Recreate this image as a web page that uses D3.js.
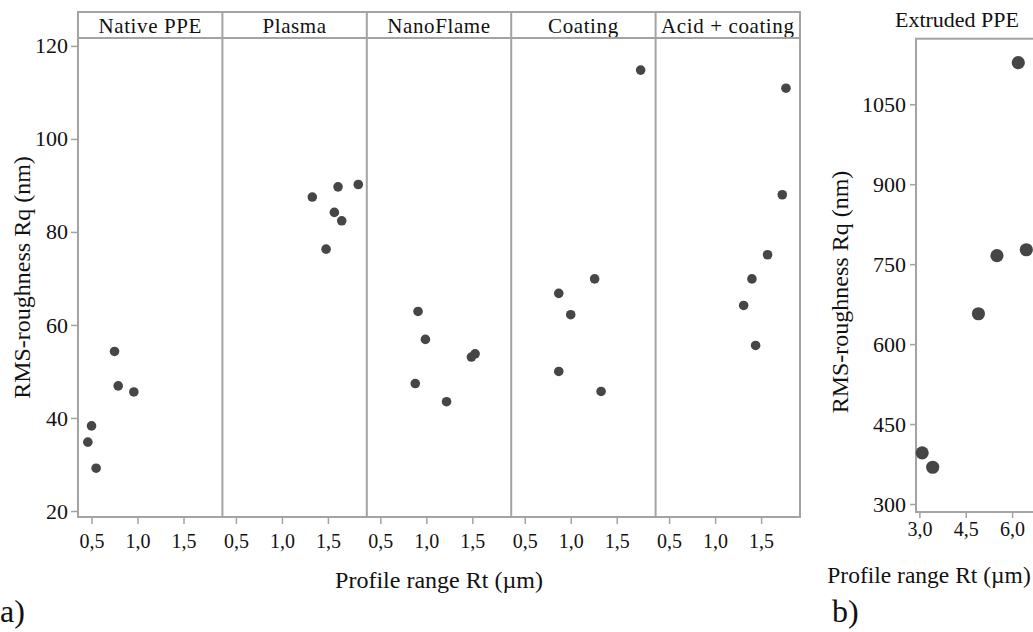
<!DOCTYPE html>
<html>
<head>
<meta charset="utf-8">
<script src="https://cdn.jsdelivr.net/npm/d3@7"></script>
<style>
  body { margin: 0; background: #fff; }
  svg, svg text { font-family: "Liberation Serif", "Times New Roman", serif; }
  svg { display: block; }
</style>
</head>
<body>
<div id="chart"></div>
<script>
// Surface roughness: Rq vs Rt per treatment (a) and extruded PPE (b)
const panelNames = ["Native PPE", "Plasma", "NanoFlame", "Coating", "Acid + coating"];

const rtNative = [0.75, 0.79, 0.96, 0.50, 0.46, 0.55];
const rqNative = [54.3, 46.9, 45.6, 38.3, 34.8, 29.2];
const rtPlasma = [1.33, 1.61, 1.57, 1.65, 1.48, 1.83];
const rqPlasma = [87.5, 89.7, 84.2, 82.4, 76.3, 90.2];
const rtNano   = [0.91, 0.99, 1.49, 1.53, 0.88, 1.22];
const rqNano   = [62.9, 56.9, 53.1, 53.8, 47.4, 43.5];
const rtCoat   = [1.76, 1.26, 0.87, 1.00, 0.87, 1.33];
const rqCoat   = [114.8, 69.9, 66.8, 62.2, 50.0, 45.7];
const rtAcid   = [1.77, 1.73, 1.57, 1.40, 1.31, 1.44];
const rqAcid   = [110.9, 88.0, 75.1, 69.9, 64.2, 55.6];

const rtExtruded = [6.20, 5.51, 6.46, 4.91, 3.09, 3.43];
const rqExtruded = [1128, 766, 777, 657, 396, 369];

const ticksRtA = [0.5, 1.0, 1.5];
const ticksRqA = [20, 40, 60, 80, 100, 120];
const ticksRtB = [3.0, 4.5, 6.0];
const ticksRqB = [300, 450, 600, 750, 900, 1050];

const rtA = [rtNative, rtPlasma, rtNano, rtCoat, rtAcid];
const rqA = [rqNative, rqPlasma, rqNano, rqCoat, rqAcid];

const W = 1033, H = 632;
const LINE = "#a3a3a3", DOT = "#464646", INK = "#111";
const comma = d => d3.format(".1f")(d).replace(".", ",");

const svg = d3.select("#chart").append("svg")
  .attr("width", W).attr("height", H);

// shared axis styling (d3 sets a sans-serif family on the axis group)
function styleAxis(g, size) {
  g.attr("font-family", null);
  g.select(".domain").remove();
  g.selectAll("line").attr("stroke", LINE).attr("stroke-width", 1.5);
  g.selectAll("text").style("font-size", size + "px").attr("fill", INK);
}

/* ---------- panel a ---------- */
const aLeft = 78, aRight = 800, aTop = 38, aBottom = 517, headTop = 12;
const pw = (aRight - aLeft) / panelNames.length;

const yA = d3.scaleLinear().domain([18.71, 121.7]).range([aBottom, aTop]);

svg.append("g").attr("transform", `translate(${aLeft},0)`)
  .call(d3.axisLeft(yA).tickValues(ticksRqA).tickSize(7).tickSizeOuter(0).tickPadding(3))
  .call(styleAxis, 22);

panelNames.forEach((name, i) => {
  const x0 = aLeft + i * pw;
  const x = d3.scaleLinear().domain([0.353, 0.353 + pw / 92]).range([x0, x0 + pw]);

  svg.append("g").attr("transform", `translate(0,${aBottom})`)
    .call(d3.axisBottom(x).tickValues(ticksRtA).tickSize(7).tickSizeOuter(0)
      .tickPadding(10).tickFormat(comma))
    .call(styleAxis, 20);

  svg.append("text")
    .attr("x", x0 + pw / 2).attr("y", 33)
    .attr("text-anchor", "middle")
    .style("font-size", "21px").style("letter-spacing", "0.6px").attr("fill", INK)
    .text(name);

  svg.append("g").selectAll("circle").data(rtA[i].map((v, j) => [v, rqA[i][j]]))
    .enter().append("circle")
    .attr("cx", d => x(d[0])).attr("cy", d => yA(d[1]))
    .attr("r", 4.8).attr("fill", DOT);
});

// frame, header strip and dividers
const frame = svg.append("g").attr("fill", "none").attr("stroke", LINE).attr("stroke-width", 2);
frame.append("rect").attr("x", aLeft).attr("y", headTop)
  .attr("width", aRight - aLeft).attr("height", aBottom - headTop);
frame.append("line").attr("x1", aLeft).attr("x2", aRight).attr("y1", aTop).attr("y2", aTop);
d3.range(1, panelNames.length).forEach(i => {
  frame.append("line").attr("x1", aLeft + i * pw).attr("x2", aLeft + i * pw)
    .attr("y1", headTop).attr("y2", aBottom);
});

svg.append("text")
  .attr("transform", `translate(30,${(aTop + aBottom) / 2}) rotate(-90)`)
  .attr("text-anchor", "middle").style("font-size", "24px").attr("fill", INK)
  .text("RMS-roughness Rq (nm)");

svg.append("text")
  .attr("x", (aLeft + aRight) / 2).attr("y", 588).attr("text-anchor", "middle")
  .style("font-size", "24px").attr("fill", INK)
  .text("Profile range Rt (\u00b5m)");

svg.append("text").attr("x", 0).attr("y", 622)
  .style("font-size", "32px").attr("fill", INK).text("a)");

/* ---------- panel b ---------- */
const bLeft = 916, bRight = 1045, bTop = 38.7, bBottom = 512;
const xB = d3.scaleLinear().domain([2.89, 2.89 + (bRight - bLeft) / 30.9]).range([bLeft, bRight]);
const yB = d3.scaleLinear().domain([285, 1173]).range([bBottom, bTop]);

svg.append("g").attr("transform", `translate(${bLeft},0)`)
  .call(d3.axisLeft(yB).tickValues(ticksRqB).tickSize(6).tickSizeOuter(0)
    .tickPadding(4).tickFormat(d3.format("d")))
  .call(styleAxis, 22);

svg.append("g").attr("transform", `translate(0,${bBottom})`)
  .call(d3.axisBottom(xB).tickValues(ticksRtB).tickSize(6).tickSizeOuter(0)
    .tickPadding(4).tickFormat(comma))
  .call(styleAxis, 20);

svg.append("rect").attr("x", bLeft).attr("y", bTop)
  .attr("width", bRight - bLeft).attr("height", bBottom - bTop)
  .attr("fill", "none").attr("stroke", LINE).attr("stroke-width", 2);

svg.append("g").selectAll("circle").data(rtExtruded.map((v, j) => [v, rqExtruded[j]]))
  .enter().append("circle")
  .attr("cx", d => xB(d[0])).attr("cy", d => yB(d[1]))
  .attr("r", 6.6).attr("fill", DOT);

svg.append("text")
  .attr("x", 957).attr("y", 27).attr("text-anchor", "middle")
  .style("font-size", "22px").attr("fill", INK).text("Extruded PPE");

svg.append("text")
  .attr("transform", `translate(848,292) rotate(-90)`)
  .attr("text-anchor", "middle").style("font-size", "24px").attr("fill", INK)
  .text("RMS-roughness Rq (nm)");

svg.append("text")
  .attr("x", 929).attr("y", 583).attr("text-anchor", "middle")
  .style("font-size", "23.5px").attr("fill", INK)
  .text("Profile range Rt (\u00b5m)");

svg.append("text").attr("x", 832).attr("y", 622)
  .style("font-size", "32px").attr("fill", INK).text("b)");
</script>
</body>
</html>
